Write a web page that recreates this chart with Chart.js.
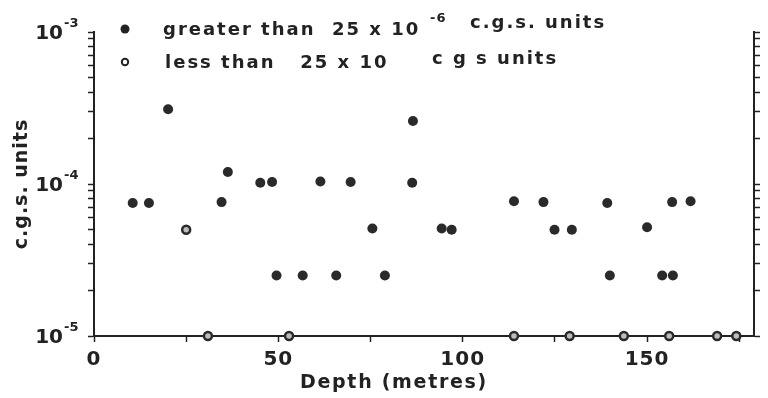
<!DOCTYPE html>
<html>
<head>
<meta charset="utf-8">
<script src="https://cdn.jsdelivr.net/npm/chart.js@4/dist/chart.umd.min.js"></script>
<style>
  html, body { margin: 0; padding: 0; background: #fff; }
  canvas { display: block; }
</style>
</head>
<body>
<canvas id="chart" width="768" height="398"></canvas>
<script>
// Magnetic susceptibility of samples plotted against depth (log scale).

// Samples above 25 x 10^-6 c.g.s. units
const depthHigh = [10.5, 14.9, 20.1, 34.6, 36.3, 45.1, 48.3, 49.5, 56.6, 61.4,
                   65.7, 69.6, 75.5, 78.9, 86.5, 86.3, 94.3, 97.0, 113.9, 121.9,
                   124.9, 129.6, 139.2, 139.9, 150.0, 154.1, 157.0, 156.8, 161.8];
const suscHigh  = [7.5e-5, 7.5e-5, 3.1e-4, 7.6e-5, 1.2e-4, 1.02e-4, 1.03e-4, 2.5e-5, 2.5e-5, 1.04e-4,
                   2.5e-5, 1.03e-4, 5.1e-5, 2.5e-5, 2.6e-4, 1.02e-4, 5.1e-5, 5.0e-5, 7.7e-5, 7.6e-5,
                   5.0e-5, 5.0e-5, 7.5e-5, 2.5e-5, 5.2e-5, 2.5e-5, 2.5e-5, 7.6e-5, 7.7e-5];

// Samples below 25 x 10^-6 c.g.s. units (open symbols)
const depthLow = [25.0, 30.9, 52.9, 113.9, 129.0, 143.7, 156.0, 169.0, 174.2];
const suscLow  = [5.0e-5, 1e-5, 1e-5, 1e-5, 1e-5, 1e-5, 1e-5, 1e-5, 1e-5];

// Axis labelling
const xTickLabels = [0, 50, 100, 150];
const yTickExponents = [-5, -4, -3];
const yTickLabels = ['10', '10', '10'];
const yTickPowers = ['-5', '-4', '-3'];
const xTitle = 'Depth (metres)';
const yTitle = 'c.g.s. units';

// Key text
const keyHigh = ['greater than  25 x 10', '-6', 'c.g.s. units'];
const keyLow  = ['less than   25 x 10', 'c g s units'];

const ink = '#222222';
const FONT = '"DejaVu Sans", sans-serif';

// keep only whole-number mantissas (1..9 x 10^n) on the log axes
function wholeDecadeSteps(scale) {
  scale.ticks = scale.ticks.filter(t => {
    const e = Math.floor(Math.log10(t.value) + 1e-9);
    const m = t.value / Math.pow(10, e);
    return Math.abs(m - Math.round(m)) < 1e-6;
  });
}

const keyAndTitle = {
  id: 'keyAndTitle',
  beforeDraw(chart) {
    chart.ctx.letterSpacing = '1px';
  },
  afterDraw(chart) {
    const ctx = chart.ctx;
    ctx.save();
    ctx.fillStyle = ink;
    ctx.strokeStyle = ink;

    // decade labels on the left axis, with raised exponents
    const ys = chart.scales.y;
    ctx.letterSpacing = '0px';
    yTickExponents.forEach((e, i) => {
      const py = ys.getPixelForValue(Math.pow(10, e));
      ctx.font = 'bold 20px ' + FONT;
      ctx.textAlign = 'right';
      ctx.textBaseline = 'middle';
      ctx.fillText(yTickLabels[i], 63, py + 2);
      ctx.font = 'bold 13px ' + FONT;
      ctx.textAlign = 'left';
      ctx.textBaseline = 'alphabetic';
      ctx.fillText(yTickPowers[i], 64, py - 5);
    });

    // key symbols
    ctx.beginPath();
    ctx.arc(125, 29, 4.5, 0, Math.PI * 2);
    ctx.fill();
    ctx.lineWidth = 2;
    ctx.beginPath();
    ctx.arc(125, 62, 3.2, 0, Math.PI * 2);
    ctx.stroke();

    ctx.textAlign = 'left';
    ctx.textBaseline = 'alphabetic';
    ctx.letterSpacing = '2px';
    ctx.font = 'bold 18px ' + FONT;
    ctx.fillText(keyHigh[0], 163, 35);
    ctx.fillText(keyHigh[2], 470, 28);
    ctx.fillText(keyLow[0], 165, 68);
    ctx.fillText(keyLow[1], 432, 64);
    ctx.letterSpacing = '1px';
    ctx.font = 'bold 13px ' + FONT;
    ctx.fillText(keyHigh[1], 430, 22);

    // x-axis title
    ctx.letterSpacing = '1.7px';
    ctx.font = 'bold 19px ' + FONT;
    ctx.fillText(xTitle, 300, 388);
    ctx.restore();
  }
};

const axisLine = { display: true, color: ink, width: 2 };
const tickMarks = { display: true, drawOnChartArea: false, drawTicks: true, tickLength: 6, tickColor: ink, tickWidth: 1.5 };

new Chart(document.getElementById('chart'), {
  type: 'scatter',
  data: {
    datasets: [
      {
        label: keyHigh.join(' '),
        data: depthHigh.map((d, i) => ({ x: d, y: suscHigh[i] })),
        pointRadius: 5,
        pointHoverRadius: 5,
        backgroundColor: '#2a2a2a',
        borderWidth: 0,
        clip: false
      },
      {
        label: keyLow.join(' '),
        data: depthLow.map((d, i) => ({ x: d, y: suscLow[i] })),
        pointRadius: 4,
        pointHoverRadius: 4,
        backgroundColor: '#bdbdbd',
        borderColor: '#2a2a2a',
        borderWidth: 2.5,
        clip: false
      }
    ]
  },
  options: {
    responsive: false,
    animation: false,
    devicePixelRatio: 1,
    layout: { padding: { top: 32, left: 0, right: 0, bottom: 0 } },
    plugins: { legend: { display: false }, tooltip: { enabled: false } },
    scales: {
      x: {
        type: 'linear',
        position: 'bottom',
        min: 0,
        max: 179,
        afterFit: s => { s.height = 62; },
        grid: tickMarks,
        border: axisLine,
        ticks: {
          stepSize: 25,
          includeBounds: false,
          autoSkip: false,
          maxRotation: 0,
          padding: 6,
          color: ink,
          font: { family: FONT, size: 20, weight: 'bold' },
          callback: v => (xTickLabels.includes(v) ? String(v) : '')
        }
      },
      y: {
        type: 'logarithmic',
        position: 'left',
        min: 1e-5,
        max: 1e-3,
        afterFit: s => { s.width = 94; },
        afterBuildTicks: wholeDecadeSteps,
        grid: tickMarks,
        border: axisLine,
        ticks: { autoSkip: false, padding: 5, callback: () => '' },
        title: {
          display: true,
          text: yTitle,
          color: ink,
          font: { family: FONT, size: 19, weight: 'bold' },
          padding: { top: 11, bottom: 0 }
        }
      },
      y2: {
        type: 'logarithmic',
        position: 'right',
        min: 1e-5,
        max: 1e-3,
        afterFit: s => { s.width = 14; },
        afterBuildTicks: wholeDecadeSteps,
        grid: tickMarks,
        border: axisLine,
        ticks: { autoSkip: false, padding: 0, callback: () => '' }
      }
    }
  },
  plugins: [keyAndTitle]
});
</script>
</body>
</html>
